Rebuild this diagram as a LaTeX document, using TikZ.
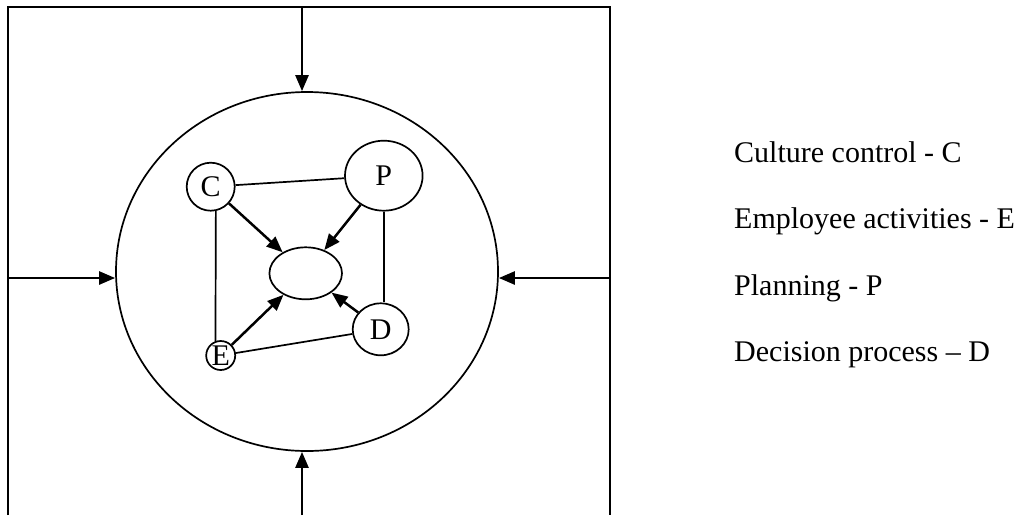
\documentclass[tikz,border=0pt]{standalone}
\usepackage{fontspec}
\setmainfont{Liberation Serif}
\usetikzlibrary{arrows.meta,calc,shapes.geometric}
\begin{document}
\begin{tikzpicture}[x=1pt,y=-1pt,
  line/.style={line width=1.7pt},
  arr/.style={line width=2.5pt,-{Triangle[length=16pt,width=13pt]}},
  bubble/.style={draw,ellipse,line width=1.7pt,inner sep=0pt},
  lbl/.style={font=\fontsize{30}{34}\selectfont},
  legend/.style={anchor=base west,inner sep=0pt,font=\fontsize{30}{36}\selectfont}
]
\useasboundingbox (0,0) rectangle (1020,515);
% outer frame (open at the bottom)
\draw[line] (8,515) -- (8,7) -- (610,7) -- (610,515);
% big circle
\node[bubble,minimum width=382pt,minimum height=359pt] (big) at (307,271.5) {};
% inner nodes
\node[bubble,lbl,minimum width=48pt,minimum height=48pt] (C) at (210.7,186.7) {C};
\node[bubble,lbl,minimum width=77.6pt,minimum height=70pt] (P) at (383.8,175.7) {P};
\node[bubble,minimum width=72.6pt,minimum height=52pt] (M) at (305.7,273.3) {};
\node[bubble,lbl,minimum width=56pt,minimum height=52pt] (D) at (380.7,329.3) {D};
\node[bubble,lbl,minimum width=29pt,minimum height=29pt] (E) at (220.7,355.5) {E};
% outer arrows
\coordinate (tin) at (302,7);
\coordinate (bin) at (302,515);
\coordinate (lin) at (8,278);
\coordinate (rin) at (610,278);
\draw[arr] (tin) -- (tin |- big.north);
\draw[arr] (bin) -- (bin |- big.south);
\draw[arr] (lin) -- (lin -| big.west);
\draw[arr] (rin) -- (rin -| big.east);
% inner lines
\draw[line] (C) -- (P);
\draw[line] (C.-78) -- (E.110);
\draw[line] (P.south) -- (D.north -| P.south);
\draw[line] (E) -- (D);
% inner arrows
\draw[arr] (C) -- (M);
\draw[arr] (P) -- (M);
\draw[arr] (E) -- (M);
\draw[arr] (D) -- (M);
% legend
\node[legend] (l1) at (734,162) {Culture control - C};
\node[legend] (l2) at (734,228) {Employee activities - E};
\node[legend] (l3) at (734,295) {Planning - P};
\node[legend] (l4) at (734,361) {Decision process – D};
\end{tikzpicture}
\end{document}
